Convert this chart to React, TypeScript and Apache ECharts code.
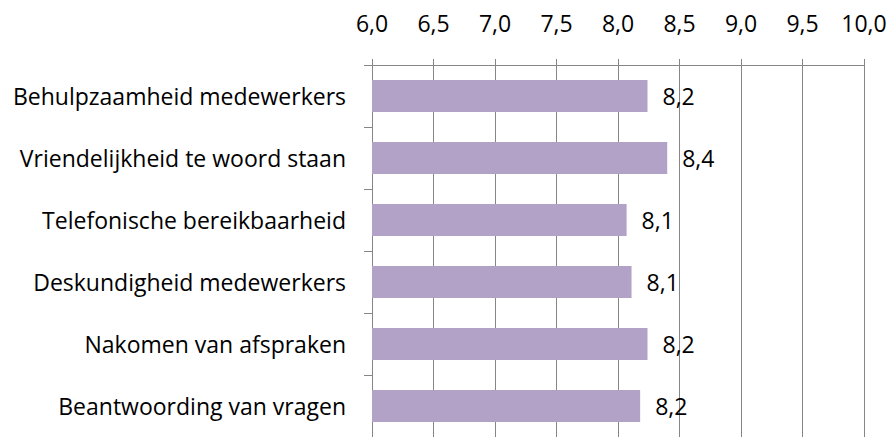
import React, { useEffect, useRef } from "react";
import * as echarts from "echarts";

const categories = [
  "Behulpzaamheid medewerkers",
  "Vriendelijkheid te woord staan",
  "Telefonische bereikbaarheid",
  "Deskundigheid medewerkers",
  "Nakomen van afspraken",
  "Beantwoording van vragen",
];
const scores = [8.24, 8.4, 8.07, 8.11, 8.24, 8.18];
const axisMin = 6;
const axisMax = 10;
const axisStep = 0.5;

const fmt = (v: number) => v.toFixed(1).replace(".", ",");

export default function App() {
  const ref = useRef<HTMLDivElement>(null);
  useEffect(() => {
    document.body.style.margin = "0";
    const chart = echarts.init(ref.current!, null, { renderer: "svg" });
    const font = "'Open Sans', sans-serif";
    chart.setOption({
      animation: false,
      textStyle: { fontFamily: font },
      grid: { left: 372, right: 26, top: 65, height: 375, containLabel: false },
      xAxis: {
        type: "value",
        position: "top",
        min: axisMin,
        max: axisMax,
        interval: axisStep,
        axisLine: { show: true, lineStyle: { color: "#868686", width: 1 } },
        axisTick: { show: true, length: 6, lineStyle: { color: "#868686" } },
        splitLine: { show: true, lineStyle: { color: "#868686", width: 1 } },
        axisLabel: {
          formatter: (v: number) => fmt(v),
          color: "#000",
          fontSize: 23,
          fontFamily: font,
          margin: 31,
        },
      },
      yAxis: {
        type: "category",
        inverse: true,
        data: categories,
        axisLine: { show: true, lineStyle: { color: "#868686", width: 1 } },
        axisTick: { show: true, length: 8, lineStyle: { color: "#868686" } },
        axisLabel: {
          color: "#000",
          fontSize: 23,
          fontFamily: font,
          margin: 26,
        },
      },
      series: [
        {
          type: "bar",
          data: scores,
          barWidth: 32,
          itemStyle: { color: "#B3A2C7" },
          label: {
            show: true,
            position: "right",
            distance: 15,
            formatter: (p: any) => fmt(p.value),
            color: "#000",
            fontSize: 23,
            fontFamily: font,
          },
        },
      ],
    });
    return () => chart.dispose();
  }, []);
  return (
    <div
      ref={ref}
      style={{ position: "absolute", left: 0, top: 0, width: 890, height: 437 }}
    />
  );
}
